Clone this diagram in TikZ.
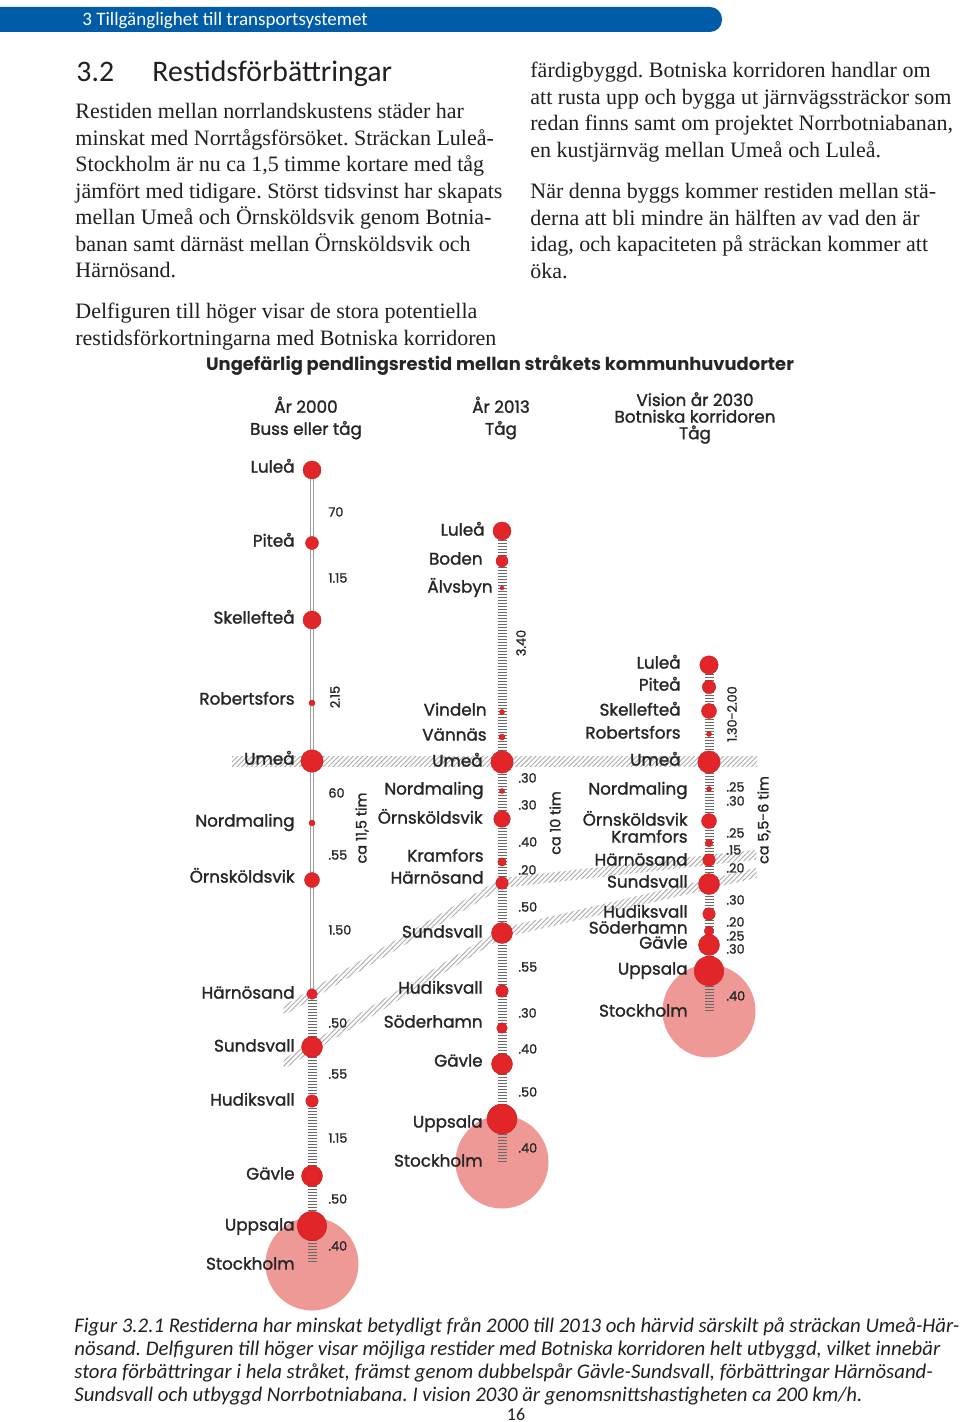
\documentclass[tikz,border=0pt]{standalone}
\usepackage{fontspec}
\setmainfont{Liberation Serif}
\newfontfamily\barfont{Carlito}
\newfontfamily\mapfont{Poppins}[FakeBold=1.4]
\newfontfamily\maptitlefont{Poppins}
\usepackage{tikz}
\usetikzlibrary{positioning, calc, patterns.meta}
\frenchspacing

\pgfdeclarelayer{back}
\pgfdeclarelayer{track}
\pgfsetlayers{back,track,main}

\definecolor{barblue}{RGB}{0,92,166}
\definecolor{stopred}{RGB}{226,37,40}
\definecolor{cityrose}{RGB}{239,153,151}
\definecolor{ink}{RGB}{35,31,32}
\definecolor{mapink}{RGB}{38,38,38}
\definecolor{tiegray}{RGB}{105,105,105}
\definecolor{hatchgray}{RGB}{170,170,170}

\tikzset{
  stop/.style={circle, fill=stopred, draw=stopred!85!black, line width=0.2pt, inner sep=0pt},
  city/.style={circle, fill=cityrose, inner sep=0pt, minimum size=46.5pt},
  place/.style={anchor=mid east, inner sep=0pt, text=mapink, font=\mapfont\fontsize{8.4}{9}\selectfont},
  leg/.style={anchor=mid west, inner sep=0pt, text=mapink, font=\mapfont\fontsize{6.4}{7}\selectfont},
  total/.style={rotate=90, inner sep=0pt, text=mapink, font=\mapfont\fontsize{7.2}{8}\selectfont},
  colhead/.style={inner sep=0pt, align=center, text=mapink, font=\mapfont\fontsize{8.4}{11}\selectfont},
  road/.style={draw=gray!75, double=white, line width=0.5pt, double distance=1pt},
  rail/.style={draw=tiegray, line width=4.5pt, dash pattern=on 0.5pt off 1pt},
  band/.style={pattern={Lines[angle=45, distance=1.7pt, line width=0.45pt]}, pattern color=hatchgray},
  prose/.style={anchor=north west, inner sep=0pt, align=left, text=ink, font=\fontsize{11}{13.25}\selectfont},
}

\begin{document}
\begin{tikzpicture}[x=0.5pt, y=-0.5pt]
\useasboundingbox (0,0) rectangle (960,1422);
\begin{pgfonlayer}{back}
  \fill[white] (0,0) rectangle (960,1422);
  \node[city] (a-stockholm) at (312,1264) {};
  \node[city] (b-stockholm) at (502,1162) {};
  \node[city] (c-stockholm) at (709,1011) {};
\end{pgfonlayer}

% sidhuvud och rubrik
\fill[barblue, rounded corners=6pt] (-20,7) rectangle (722,32);
\node[anchor=base west, inner sep=0pt, text=white, font=\barfont\fontsize{9.5}{11}\selectfont] (chapter) at (82,26) {3 Tillgänglighet till transportsystemet};
\node[anchor=base west, inner sep=0pt, text=ink, font=\barfont\fontsize{14.9}{16}\selectfont] (secnum) at (76,82) {3.2};
\node[anchor=base west, inner sep=0pt, text=ink, font=\barfont\fontsize{14.9}{16}\selectfont] (sectitle) at (152,82) {Restidsförbättringar};

% brödtext
\node[prose] (intro) at (75,103) {Restiden mellan norrlandskustens städer har\\
  minskat med Norrtågsförsöket. Sträckan Luleå-\\
  Stockholm är nu ca 1,5 timme kortare med tåg\\
  jämfört med tidigare. Störst tidsvinst har skapats\\
  mellan Umeå och Örnsköldsvik genom Botnia-\\
  banan samt därnäst mellan Örnsköldsvik och\\
  Härnösand.};
\node[prose] (subfig) at (75,303) {Delfiguren till höger visar de stora potentiella\\
  restidsförkortningarna med Botniska korridoren};
\node[prose] (corridor) at (530,62) {färdigbyggd. Botniska korridoren handlar om\\
  att rusta upp och bygga ut järnvägssträckor som\\
  redan finns samt om projektet Norrbotniabanan,\\
  en kustjärnväg mellan Umeå och Luleå.};
\node[prose] (halving) at (530,183) {När denna byggs kommer restiden mellan stä-\\
  derna att bli mindre än hälften av vad den är\\
  idag, och kapaciteten på sträckan kommer att\\
  öka.};

% diagramrubriker
\node[inner sep=0pt, text=mapink, font=\maptitlefont\bfseries\fontsize{8.95}{10}\selectfont] (maptitle) at (500,365) {Ungefärlig pendlingsrestid mellan stråkets kommunhuvudorter};
\node[colhead] (head2000) at (306,418) {År 2000\\Buss eller tåg};
\node[colhead] (head2013) at (501,418) {År 2013\\Tåg};
\node[colhead, font=\mapfont\fontsize{8.4}{8.3}\selectfont] (head2030) at (695,418) {Vision år 2030\\Botniska korridoren\\Tåg};

% år 2000
\foreach \id/\y/\rad/\ly/\lab in {lulea/470/9/468/Luleå, pitea/543/6.5/542/Piteå,
    skelleftea/620/9/619/Skellefteå, robertsfors/703/3/700/Robertsfors, umea/761/11.2/760/Umeå,
    nordmaling/823/3/822/Nordmaling, ornskoldsvik/880/7.5/878/Örnsköldsvik,
    harnosand/994/5.3/994/Härnösand, sundsvall/1047/10.5/1047/Sundsvall,
    hudiksvall/1101/6.2/1101/Hudiksvall, gavle/1176/10.5/1175/Gävle, uppsala/1226/14.7/1226/Uppsala}
{
  \node[stop, minimum size=\rad pt] (a-\id) at (312,\y) {};
  \node[place] (a-\id-lab) at (295,\ly) {\lab};
}
\node[place] (a-stockholm-lab) at (295,1265) {Stockholm};
\foreach \ty/\tv [count=\k] in {512/70, 578/1.15, 793/60, 855/.55, 930/1.50, 1023/.50,
    1074/.55, 1138/1.15, 1199/.50, 1246/.40}
  \node[leg] (a-leg\k) at (328,\ty) {\tv};
\node[leg, anchor=center, rotate=90] (a-leg-long) at (335,697) {2.15};
\node[total] (a-total) at (362,828) {ca 11,5 tim};

% år 2013
\foreach \id/\y/\rad/\ly/\lx/\lab in {lulea/531/9/531/485/Luleå, boden/561/6/560/483/Boden,
    alvsbyn/588/2/588/493/Älvsbyn, vindeln/712/2.5/711/487/Vindeln, vannas/737/3/736/487/Vännäs,
    umea/762/11.2/762/483/Umeå, nordmaling/791/2.5/790/484/Nordmaling,
    ornskoldsvik/819/8.3/819/483/Örnsköldsvik, kramfors/862/4.2/857/484/Kramfors,
    harnosand/883/6.2/879/484/Härnösand, sundsvall/933/10.5/933/483/Sundsvall,
    hudiksvall/991/6.2/989/483/Hudiksvall, soderhamn/1028/5.3/1023/483/Söderhamn,
    gavle/1064/10.5/1062/483/Gävle, uppsala/1119/15/1123/483/Uppsala}
{
  \node[stop, minimum size=\rad pt] (b-\id) at (502,\y) {};
  \node[place] (b-\id-lab) at (\lx,\ly) {\lab};
}
\node[place] (b-stockholm-lab) at (483,1162) {Stockholm};
\foreach \ty/\tv [count=\k] in {778/.30, 805/.30, 842/.40, 870/.20, 907/.50, 967/.55,
    1013/.30, 1049/.40, 1092/.50, 1148/.40}
  \node[leg] (b-leg\k) at (518,\ty) {\tv};
\node[leg, anchor=center, rotate=90] (b-leg-long) at (521,643) {3.40};
\node[total] (b-total) at (555,823) {ca 10 tim};

% vision 2030
\foreach \id/\y/\rad/\ly/\lx/\lab in {lulea/665/9.2/664/681/Luleå, pitea/687/6.7/686/681/Piteå,
    skelleftea/711/7.5/711/681/Skellefteå, robertsfors/734/2.5/734/681/Robertsfors,
    umea/762/11.2/761/681/Umeå, nordmaling/789/2.5/790/688/Nordmaling,
    ornskoldsvik/821/7.5/821/688/Örnsköldsvik, kramfors/843/3.8/838/688/Kramfors,
    harnosand/860/6.2/861/688/Härnösand, sundsvall/884/10.5/883/688/Sundsvall,
    hudiksvall/914/6.2/913/688/Hudiksvall, soderhamn/931/4.8/929/688/Söderhamn,
    gavle/945/10.5/944/688/Gävle, uppsala/971/14.8/970/688/Uppsala}
{
  \node[stop, minimum size=\rad pt] (c-\id) at (709,\y) {};
  \node[place] (c-\id-lab) at (\lx,\ly) {\lab};
}
\node[place] (c-stockholm-lab) at (688,1012) {Stockholm};
\foreach \ty/\tv [count=\k] in {787/.25, 801/.30, 833/.25, 850/.15, 868/.20, 900/.30,
    922/.20, 936/.25, 949/.30, 996/.40}
  \node[leg] (c-leg\k) at (726,\ty) {\tv};
\node[leg, anchor=center, rotate=90] (c-leg-long) at (732,714) {1.30-2.00};
\node[total] (c-total) at (764,820) {ca 5,5-6 tim};

% banor
\begin{pgfonlayer}{track}
  \draw[road] (a-lulea.center) -- (a-harnosand.center);
  \draw[rail] (a-harnosand.center) -- (a-stockholm.center);
  \draw[rail] (b-lulea.center) -- (b-stockholm.center);
  \draw[rail] (c-lulea.center) -- (c-stockholm.center);
\end{pgfonlayer}

% skrafferade stråk
\begin{pgfonlayer}{back}
  \fill[band] ($(a-umea)+(-80,-4.5)$) rectangle ($(c-umea)+(48,4.5)$);
  \coordinate (hb-w) at ($(a-harnosand)!-0.15!(b-harnosand)$);
  \coordinate (hb-e) at ($(c-harnosand)!-0.23!(b-harnosand)$);
  \fill[band] ($(hb-w)+(0,-5)$) -- ($(a-harnosand)+(0,-5)$) -- ($(b-harnosand)+(0,-5)$)
    -- ($(c-harnosand)+(0,-5)$) -- ($(hb-e)+(0,-5)$) -- ($(hb-e)+(0,5)$) -- ($(c-harnosand)+(0,5)$)
    -- ($(b-harnosand)+(0,5)$) -- ($(a-harnosand)+(0,5)$) -- ($(hb-w)+(0,5)$) -- cycle;
  \coordinate (sb-w) at ($(a-sundsvall)!-0.15!(b-sundsvall)$);
  \coordinate (sb-e) at ($(c-sundsvall)!-0.23!(b-sundsvall)$);
  \fill[band] ($(sb-w)+(0,-5)$) -- ($(a-sundsvall)+(0,-5)$) -- ($(b-sundsvall)+(0,-5)$)
    -- ($(c-sundsvall)+(0,-5)$) -- ($(sb-e)+(0,-5)$) -- ($(sb-e)+(0,5)$) -- ($(c-sundsvall)+(0,5)$)
    -- ($(b-sundsvall)+(0,5)$) -- ($(a-sundsvall)+(0,5)$) -- ($(sb-w)+(0,5)$) -- cycle;
\end{pgfonlayer}

% figurtext
\node[anchor=north west, inner sep=0pt, align=left, text=ink, font=\barfont\itshape\fontsize{10.4}{11.5}\selectfont] (caption) at (74,1317) {Figur 3.2.1 Restiderna har minskat betydligt från 2000 till 2013 och härvid särskilt på sträckan Umeå-Här-\\
  nösand. Delfiguren till höger visar möjliga restider med Botniska korridoren helt utbyggd, vilket innebär\\
  stora förbättringar i hela stråket, främst genom dubbelspår Gävle-Sundsvall, förbättringar Härnösand-\\
  Sundsvall och utbyggd Norrbotniabana. I vision 2030 är genomsnittshastigheten ca 200 km/h.};
\node[inner sep=0pt, text=ink, font=\barfont\fontsize{9}{10}\selectfont] (pagenum) at (516,1414) {16};
\end{tikzpicture}
\end{document}
